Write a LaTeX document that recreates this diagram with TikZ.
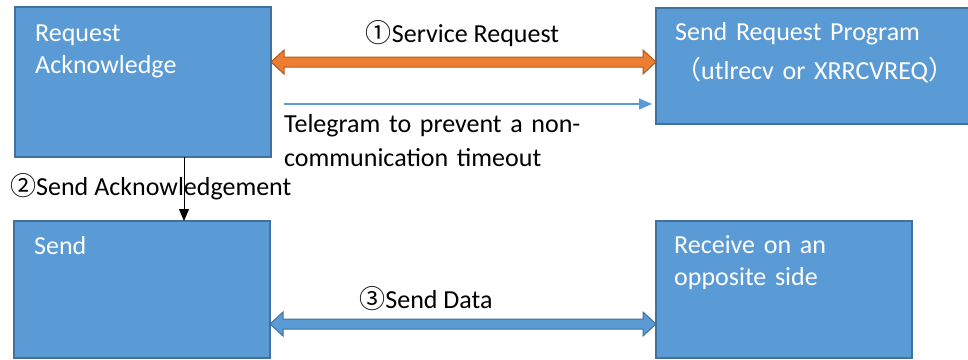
\documentclass[tikz,border=0pt]{standalone}
\usepackage{fontspec}
\setmainfont{Carlito}
\newfontfamily\cjkfont{Noto Sans CJK JP}
\usetikzlibrary{arrows.meta,positioning,calc}

\definecolor{boxblue}{HTML}{5B9BD5}
\definecolor{boxedge}{HTML}{41719C}
\definecolor{reqorange}{HTML}{ED7D31}
\definecolor{reqedge}{HTML}{AE5A21}
\newcommand{\circnum}[1]{{\cjkfont #1}}

\begin{document}
\begin{tikzpicture}[
            x=1pt, y=-1pt,
            font=\fontsize{26}{32}\selectfont,
            Box/.style={draw=boxedge, fill=boxblue, line width=1.2pt, anchor=north west, inner sep=0pt, outer sep=0pt},
            BoxText/.style={text=white, anchor=base west, inner sep=0pt, text width=300pt, align=left},
            BlockArrow/.style={line width=1pt, to path={(\tikztostart) -- ++(13,-12) -- ++(0,7) -- ($(\tikztotarget)+(-13,-5)$) -- ++(0,-7) -- (\tikztotarget) -- ++(-13,12) -- ++(0,-7) -- ($(\tikztostart)+(13,5)$) -- ++(0,7) -- cycle}},
            ]
            \useasboundingbox (0,0) rectangle (968,359);

            % boxes
            \node [Box, minimum width=256pt, minimum height=150pt] (reqack) at (15,7) {};
            \node [Box, minimum width=320pt, minimum height=116pt] (sendprog) at (656,8) {};
            \node [Box, minimum width=256pt, minimum height=137pt] (sendbox) at (14,221) {};
            \node [Box, minimum width=256pt, minimum height=137pt] (recvbox) at (656,221) {};

            \node [BoxText] (reqacktext) at ([shift={(20,34)}]reqack.north west) {Request\\Acknowledge};
            \node [BoxText] (sendprogtext) at ([shift={(19,32)}]sendprog.north west) {Send Request Program\\[7pt]\circnum{（}utlrecv or XRRCVREQ\circnum{）}};
            \node [BoxText] (sendtext) at ([shift={(20,33)}]sendbox.north west) {Send};
            \node [BoxText] (recvtext) at ([shift={(18,32)}]recvbox.north west) {Receive on an\\opposite side};

            % (1) service request
            \coordinate (reqL) at (reqack.east |- 0,62);
            \coordinate (reqR) at (sendprog.west |- 0,62);
            \draw [BlockArrow, draw=reqedge, fill=reqorange] (reqL) to (reqR);
            \node [anchor=base, inner sep=0pt, yshift=-34.5pt, xshift=-1pt] (reqlabel) at ($(reqack.north east)!.5!(sendprog.north west)$) {\circnum{①}Service Request};

            % telegram
            \coordinate (tgstart) at (284,104);
            \draw [boxblue, line width=1.5pt, shorten >=4pt, -{Triangle[length=13pt, width=11pt]}] (tgstart) -- (tgstart -| sendprog.west);
            \node [anchor=base west, inner sep=0pt, text width=320pt, align=left] (tglabel) at (284,132) {Telegram to prevent a non-\\[2pt]communication timeout};

            % (2) send acknowledgement
            \coordinate (ackx) at ([xshift=41pt]reqack.south);
            \draw [line width=1pt, -{Triangle[length=12pt, width=10pt]}] (ackx) -- (ackx |- sendbox.north);
            \node [anchor=base west, inner sep=0pt] (acklabel) at (10,195) {\circnum{②}Send Acknowledgement};

            % (3) send data
            \coordinate (dataL) at (sendbox.east |- 0,324);
            \coordinate (dataR) at (recvbox.west |- 0,324);
            \draw [BlockArrow, draw=boxedge, fill=boxblue] (dataL) to (dataR);
            \node [anchor=base, inner sep=0pt, yshift=-87pt, xshift=-37pt] (datalabel) at ($(sendbox.north east)!.5!(recvbox.north west)$) {\circnum{③}Send Data};
        \end{tikzpicture}
\end{document}
